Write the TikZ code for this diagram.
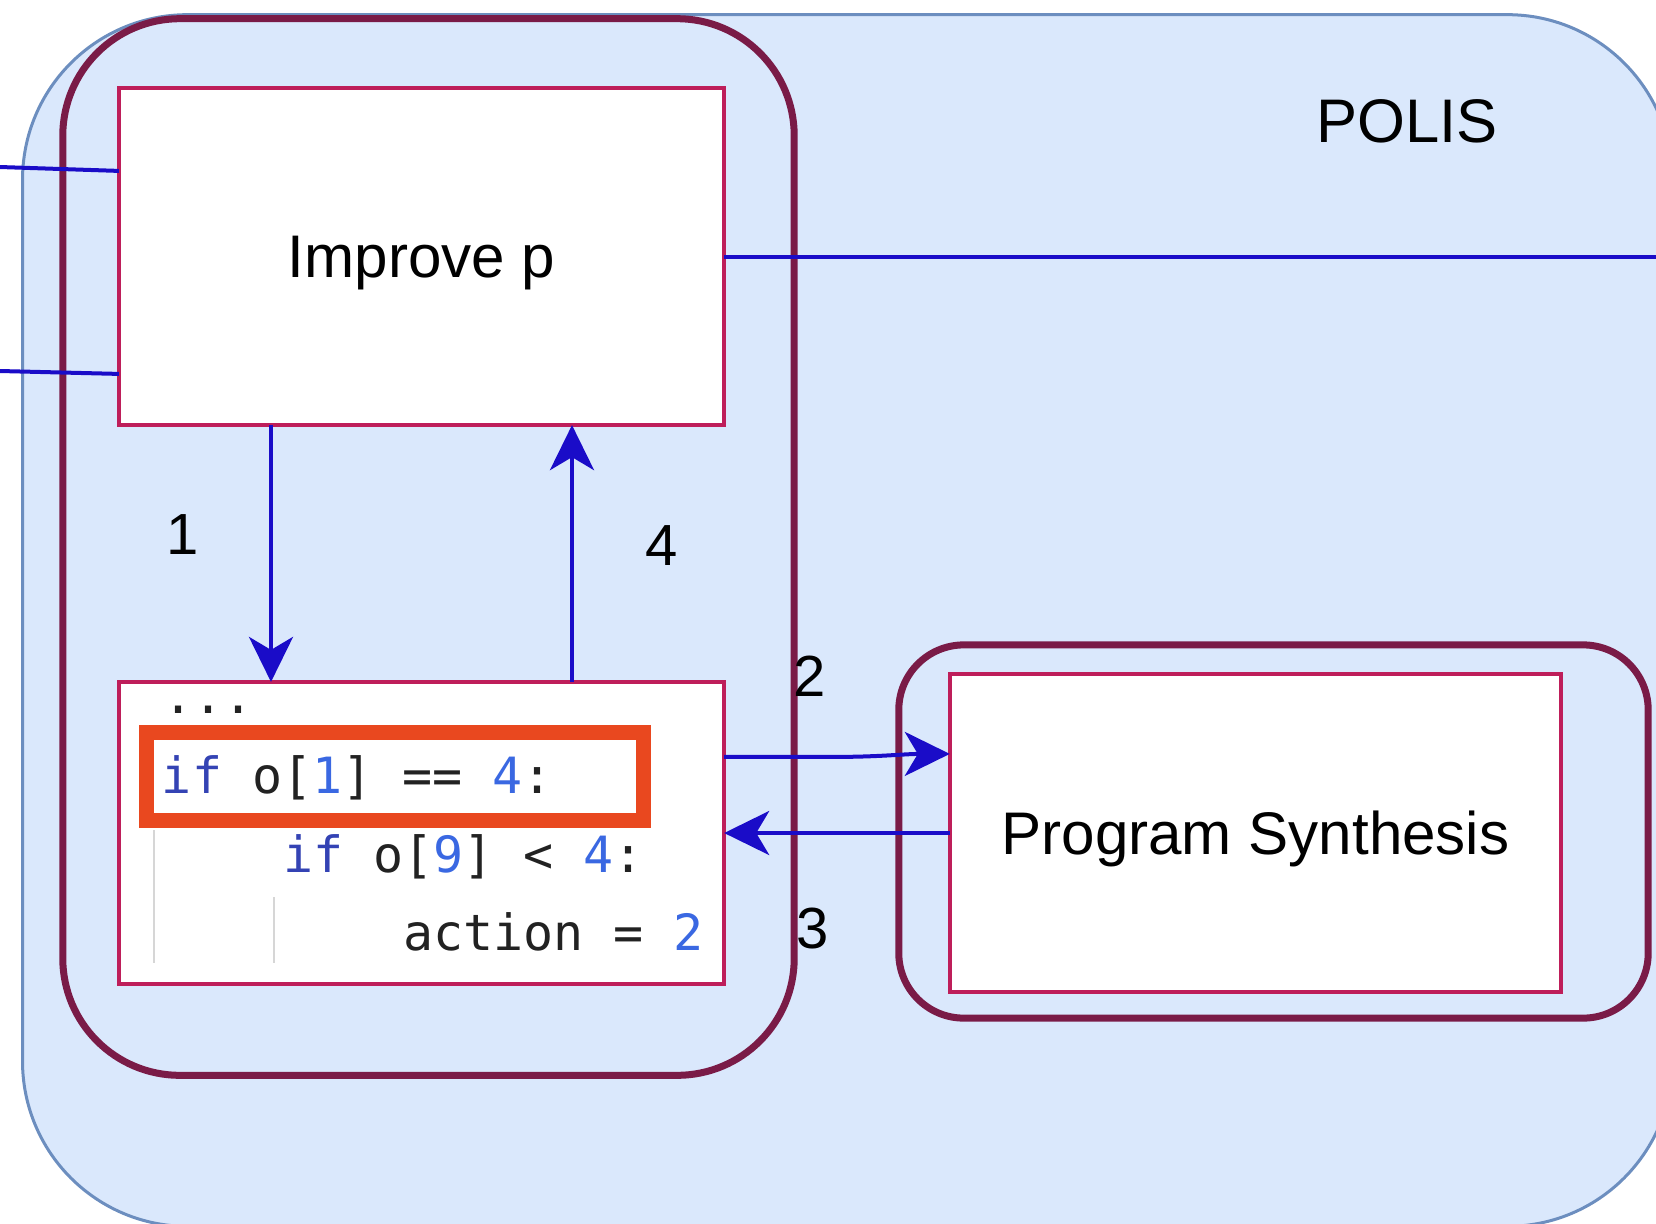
\documentclass[tikz,border=0pt]{standalone}
\usepackage{fontspec}
\setmainfont{Liberation Sans}
\newfontfamily\codefont{DejaVu Sans Mono}
\usetikzlibrary{arrows.meta,calc}
\definecolor{polisfill}{HTML}{DAE8FC}
\definecolor{polisline}{HTML}{6C8EBF}
\definecolor{grpline}{HTML}{7A1B47}
\definecolor{boxline}{HTML}{BE1E5A}
\definecolor{flow}{HTML}{1A0CC8}
\definecolor{hilite}{HTML}{E9481F}
\definecolor{kw}{HTML}{3443B4}
\definecolor{num}{HTML}{3A68E2}
\definecolor{guide}{HTML}{D6D6D6}
\definecolor{codeink}{HTML}{222222}
\begin{document}
\begin{tikzpicture}[x=0.01cm,y=-0.01cm,
  every node/.style={inner sep=0pt, outer sep=0pt},
  groupbox/.style={rectangle, draw=grpline, line width=0.07cm, rounded corners=#1},
  stagebox/.style={rectangle, draw=boxline, fill=white, line width=0.035cm},
  flowline/.style={draw=flow, line width=0.04cm},
  flowarrow/.style={flowline, -{Stealth[length=0.45cm, width=0.44cm, inset=0.13cm]}},
  maintext/.style={font=\fontsize{17.1}{20}\selectfont, text depth=0pt},
  steplabel/.style={font=\fontsize{16.5}{20}\selectfont},
  codeline/.style={anchor=base west, text=codeink, font=\codefont\fontsize{14.2}{17}\selectfont}]
\useasboundingbox (0,0) rectangle (1656,1223);
\clip (0,0) rectangle (1656,1223);

% POLIS container
\node[rectangle, fill=polisfill, draw=polisline, line width=0.03cm, rounded corners=1.65cm,
      minimum width=16.49cm, minimum height=12.11cm] (polis) at (847.5,620.5) {};
\node[font=\fontsize{17.5}{21}\selectfont] (polistitle) at (1407,121) {POLIS};

% groups
\node[groupbox=1.17cm, minimum width=7.31cm, minimum height=10.56cm] (grpA) at (428.5,547) {};
\node[groupbox=0.65cm, minimum width=7.49cm, minimum height=3.73cm] (grpB) at (1273.5,831.5) {};

% stages
\node[stagebox, maintext, minimum width=6.05cm, minimum height=3.37cm] (imp) at (421.5,256.5) {Improve p};
\node[stagebox, minimum width=6.05cm, minimum height=3.02cm] (code) at (421.5,833) {};
\node[stagebox, maintext, minimum width=6.11cm, minimum height=3.18cm] (ps) at (1255.5,833) {Program Synthesis};

% program listing
\draw[guide, line width=0.02cm] (154,830) -- (154,963);
\draw[guide, line width=0.02cm] (274,897) -- (274,963);
\node[codeline] (c0) at (163,713) {...};
\node[codeline] (c1) at (162,793) {\textcolor{kw}{if} o[\textcolor{num}{1}] == \textcolor{num}{4}:};
\node[codeline] (c2) at (283,872) {\textcolor{kw}{if} o[\textcolor{num}{9}] < \textcolor{num}{4}:};
\node[codeline] (c3) at (403,950) {action = \textcolor{num}{2}};
\node[rectangle, draw=hilite, line width=0.15cm, minimum width=4.96cm, minimum height=0.87cm] (hl) at (395,776.5) {};

% connectors leaving the picture
\coordinate (inA) at (0,167);
\coordinate (inB) at (0,371);
\coordinate (outA) at (1656,256.5);
\draw[flowline] (inA) -- ($(imp.north west)+(0,83)$);
\draw[flowline] (inB) -- ($(imp.north west)+(0,286)$);
\draw[flowline] (imp.east) -- (outA);

% numbered steps
\coordinate (xa) at (271,0);
\coordinate (xb) at (572,0);
\draw[flowarrow] (imp.south -| xa) -- (code.north -| xa);
\draw[flowarrow] (code.north -| xb) -- (imp.south -| xb);
\draw[flowarrow] ($(code.north east)+(0,75)$) -- ++(110,0) to[out=0,in=180] ($(ps.north west)+(0,80)$);
\draw[flowarrow] (ps.west) -- (code.east);

\node[steplabel] (n1) at (183,535) {1};
\node[steplabel] (n2) at (810,676) {2};
\node[steplabel] (n3) at (813,929) {3};
\node[steplabel] (n4) at (662,546) {4};
\end{tikzpicture}
\end{document}
